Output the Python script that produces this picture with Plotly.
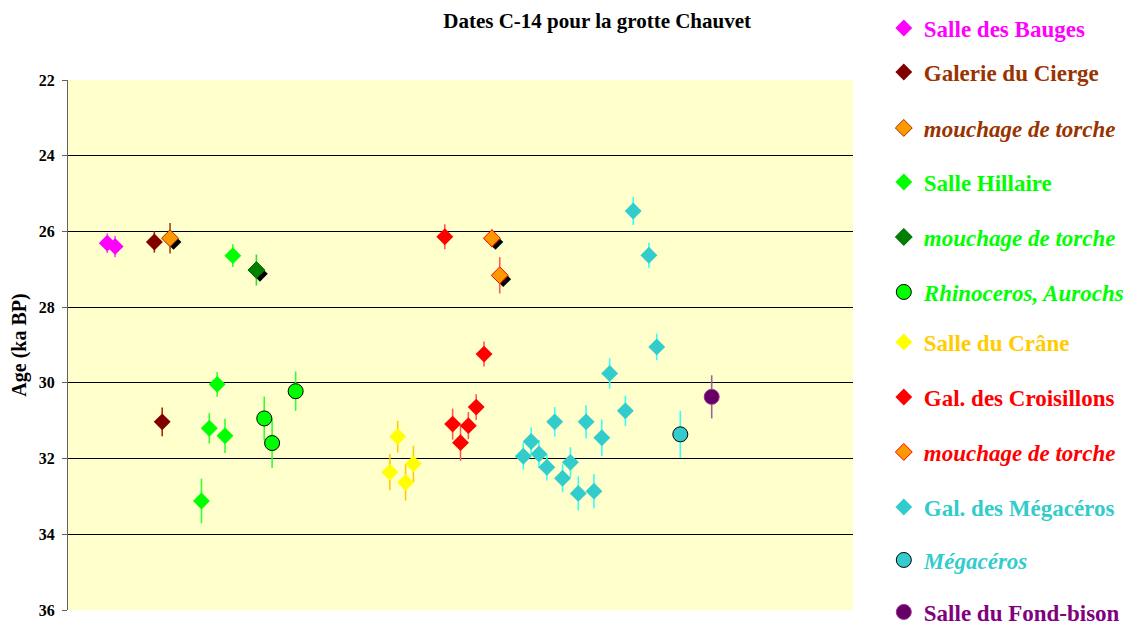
import plotly.graph_objects as go

# ---- data (sample index, age ka BP, 1-sigma) ----
bauges_x = [5, 6]
bauges_y = [26.31, 26.40]
bauges_e = [0.26, 0.28]

cierge_x = [11, 12]
cierge_y = [26.28, 31.03]
cierge_e = [0.28, 0.38]

mouch_cierge_x = [13]
mouch_cierge_y = [26.18]
mouch_cierge_e = [0.40]

hillaire_x = [17, 18, 19, 20, 21]
hillaire_y = [33.12, 31.20, 30.04, 31.40, 26.64]
hillaire_e = [0.59, 0.40, 0.33, 0.45, 0.30]

mouch_hill_x = [24]
mouch_hill_y = [27.02]
mouch_hill_e = [0.41]

rhino_x = [25, 26, 29]
rhino_y = [30.94, 31.59, 30.22]
rhino_e = [0.58, 0.66, 0.52]

crane_x = [41, 42, 43, 44]
crane_y = [32.36, 31.42, 32.63, 32.14]
crane_e = [0.48, 0.42, 0.48, 0.48]

crois_x = [48, 49, 50, 51, 52, 53]
crois_y = [26.14, 31.09, 31.58, 31.13, 30.64, 29.24]
crois_e = [0.33, 0.41, 0.48, 0.36, 0.34, 0.33]

mouch_crois_x = [54, 55]
mouch_crois_y = [26.18, 27.16]
mouch_crois_e = [0.24, 0.48]

megac_gal_x = [58, 59, 60, 61, 62, 63, 64, 65, 66, 67, 68, 69, 71, 72, 74, 75]
megac_gal_y = [31.94, 31.55, 31.88, 32.23, 31.03, 32.52, 32.10, 32.92,
               31.03, 32.86, 31.45, 29.75, 30.74, 25.46, 26.63, 29.05]
megac_gal_e = [0.35, 0.37, 0.37, 0.35, 0.39, 0.37, 0.40, 0.45,
               0.44, 0.45, 0.48, 0.40, 0.40, 0.37, 0.33, 0.35]

megac_x = [78]
megac_y = [31.36]
megac_e = [0.62]

bison_x = [82]
bison_y = [30.37]
bison_e = [0.57]

y_ticks = [22, 24, 26, 28, 30, 32, 34, 36]

FONT = "Liberation Serif"
W, H = 1133, 626

# vertical centres (px from figure top) of the 12 legend entries
legend_centres = [20, 64, 120, 174, 229, 284, 334, 389, 444, 499, 552, 604]

fig = go.Figure()
legend_ids = []


def add_series(name, x, y, e, symbol, size, color, ecolor, line_color=None,
               line_width=0):
    lid = "legend" if not legend_ids else f"legend{len(legend_ids) + 1}"
    legend_ids.append(lid)
    fig.add_trace(go.Scatter(
        x=x, y=y, mode="markers", name=name, legend=lid,
        marker=dict(symbol=symbol, size=size, color=color,
                    line=dict(color=line_color or color, width=line_width)),
        error_y=dict(type="data", array=e, visible=True, color=ecolor,
                     thickness=1.6, width=0),
    ))


def add_shadow(x, y):
    fig.add_trace(go.Scatter(
        x=[v + 0.45 for v in x], y=[v + 0.1 for v in y], mode="markers",
        showlegend=False, hoverinfo="skip",
        marker=dict(symbol="diamond", size=12, color="black"),
    ))


def span(text, color, italic=False):
    t = f'<span style="color:{color}">{text}</span>'
    return f"<i>{t}</i>" if italic else t


add_series(span("Salle des Bauges", "#ff00ff"), bauges_x, bauges_y, bauges_e,
           "diamond", 13, "#ff00ff", "#ff44ff")
add_series(span("Galerie du Cierge", "#993300"), cierge_x, cierge_y, cierge_e,
           "diamond", 13, "#800000", "#993300")
add_shadow(mouch_cierge_x, mouch_cierge_y)
add_series(span("mouchage de torche", "#993300", True), mouch_cierge_x,
           mouch_cierge_y, mouch_cierge_e, "diamond", 13, "#ff9900", "#b04010",
           line_color="#993300", line_width=1)
add_series(span("Salle Hillaire", "#00ff00"), hillaire_x, hillaire_y, hillaire_e,
           "diamond", 13, "#00ff00", "#33ff33")
add_shadow(mouch_hill_x, mouch_hill_y)
add_series(span("mouchage de torche", "#00ff00", True), mouch_hill_x,
           mouch_hill_y, mouch_hill_e, "diamond", 13, "#008000", "#33dd33",
           line_color="#006600", line_width=1)
add_series(span("Rhinoceros, Aurochs", "#00ff00", True), rhino_x, rhino_y,
           rhino_e, "circle", 15, "#00ff00", "#33ff33", line_color="black",
           line_width=1)
add_series(span("Salle du Crâne", "#ffcc00"), crane_x, crane_y, crane_e,
           "diamond", 13, "#ffff00", "#ffcc00")
add_series(span("Gal. des Croisillons", "#ff0000"), crois_x, crois_y, crois_e,
           "diamond", 13, "#ff0000", "#ff5a5a")
add_shadow(mouch_crois_x, mouch_crois_y)
add_series(span("mouchage de torche", "#ff0000", True), mouch_crois_x,
           mouch_crois_y, mouch_crois_e, "diamond", 13, "#ff9900", "#ff5a5a",
           line_color="#ff0000", line_width=1)
add_series(span("Gal. des Mégacéros", "#33cccc"), megac_gal_x, megac_gal_y,
           megac_gal_e, "diamond", 13, "#33cccc", "#33ffff")
add_series(span("Mégacéros", "#33cccc", True), megac_x, megac_y, megac_e,
           "circle", 15, "#33cccc", "#33ffff", line_color="black", line_width=1)
add_series(span("Salle du Fond-bison", "#800080"), bison_x, bison_y, bison_e,
           "circle", 15, "#660066", "#996699", line_color="#993399",
           line_width=1)

legends = {}
for lid, cy in zip(legend_ids, legend_centres):
    legends[lid] = dict(xref="container", yref="container", x=0.773,
                        y=1 - cy / H, xanchor="left", yanchor="middle",
                        bgcolor="rgba(0,0,0,0)",
                        font=dict(size=23, family=FONT, weight="bold"),
                        itemsizing="trace")

fig.update_layout(
    width=W, height=H,
    paper_bgcolor="white", plot_bgcolor="#ffffcc",
    margin=dict(l=60, r=288, t=72, b=24, autoexpand=False),
    font=dict(family=FONT, color="black"),
    title=dict(text="Dates C-14 pour la grotte Chauvet",
               x=0.52, xref="container", xanchor="center",
               y=0.979, yanchor="middle",
               font=dict(size=21, family=FONT, weight="bold")),
    showlegend=True,
    **legends,
)
fig.update_xaxes(range=[0, 100], showticklabels=False, showgrid=False,
                 zeroline=False, showline=False, ticks="")
fig.update_yaxes(range=[36, 22], tickvals=y_ticks, showgrid=True,
                 gridcolor="black", gridwidth=1, zeroline=False,
                 showline=True, linecolor="#606060", linewidth=1,
                 ticks="outside", ticklen=5, tickcolor="#606060",
                 ticklabelstandoff=4, automargin=False,
                 tickfont=dict(size=16, family=FONT, weight="bold"),
                 title=dict(text="Age (ka BP)", standoff=8,
                            font=dict(size=20, family=FONT, weight="bold")))

fig.write_html("out.html")
